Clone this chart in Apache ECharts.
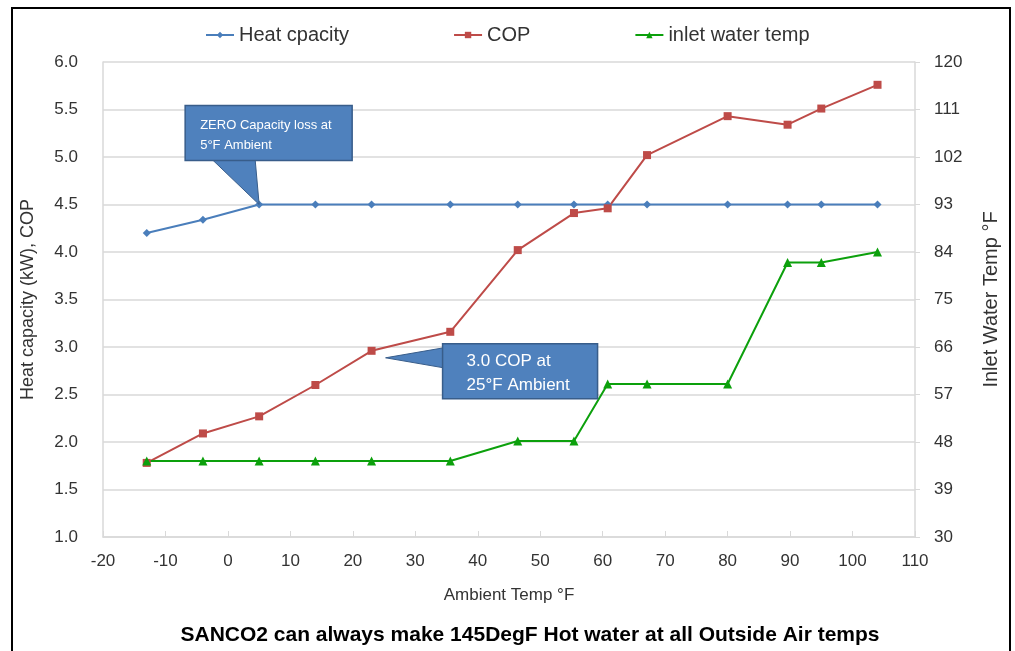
<!DOCTYPE html>
<html>
<head>
<meta charset="utf-8">
<script src="https://cdn.jsdelivr.net/npm/echarts@6/dist/echarts.min.js"></script>
<style>
  html, body { margin: 0; padding: 0; background: #fff; }
  #chart { width: 1015px; height: 651px; }
</style>
</head>
<body>
<div id="chart"></div>
<script>
// ambient temps (°F) and series values
const ambientTemp = [-13, -4, 5, 14, 23, 35.6, 46.4, 55.4, 60.8, 67.1, 80, 89.6, 95, 104]
const heatCapacity = [4.2, 4.34, 4.5, 4.5, 4.5, 4.5, 4.5, 4.5, 4.5, 4.5, 4.5, 4.5, 4.5, 4.5]
const cop = [1.78, 2.09, 2.27, 2.6, 2.96, 3.16, 4.02, 4.41, 4.46, 5.02, 5.43, 5.34, 5.51, 5.76]
const inletTemp = [44.4, 44.4, 44.4, 44.4, 44.4, 44.4, 48.2, 48.2, 59, 59, 59, 82, 82, 84]
const seriesNames = ['Heat cpacity', 'COP', 'inlet water temp']

const font = "'Liberation Sans', 'Noto Sans', sans-serif"
const gridColor = '#d9d9d9'

const pairs = (ys) => ambientTemp.map((x, i) => [x, ys[i]])

const chart = echarts.init(document.getElementById('chart'), null, { renderer: 'canvas' })

const option = {
  animation: false,
  textStyle: { fontFamily: font },
  title: {
    text: 'SANCO2 can always make 145DegF Hot water at all Outside Air temps',
    left: 525,
    textAlign: 'center',
    top: 620,
    textStyle: { fontSize: 21, fontWeight: 'bold', color: '#000', fontFamily: font }
  },
  legend: {
    data: seriesNames,
    left: 200,
    top: 20,
    itemGap: 104,
    itemWidth: 28,
    itemHeight: 8,
    textStyle: { fontSize: 20, color: '#333', fontFamily: font }
  },
  grid: { left: 103, right: 100, top: 62, bottom: 114 },
  xAxis: {
    type: 'value',
    min: -20,
    max: 110,
    interval: 10,
    name: 'Ambient Temp °F',
    nameLocation: 'middle',
    nameGap: 50,
    nameTextStyle: { fontSize: 17, color: '#333' },
    axisLine: { lineStyle: { color: gridColor, width: 1.5 } },
    axisTick: { inside: true, length: 6, lineStyle: { color: gridColor } },
    axisLabel: { fontSize: 17, color: '#333', margin: 16 },
    splitLine: { show: false }
  },
  yAxis: [
    {
      type: 'value',
      min: 1,
      max: 6,
      interval: 0.5,
      name: 'Heat capacity (kW), COP',
      nameLocation: 'middle',
      nameRotate: 90,
      nameGap: 66,
      nameTextStyle: { fontSize: 18, color: '#333' },
      axisLine: { show: true, onZero: false, lineStyle: { color: gridColor, width: 1.5 } },
      axisTick: { show: false },
      axisLabel: { fontSize: 17, color: '#333', margin: 25, formatter: (v) => v.toFixed(1) },
      splitLine: { lineStyle: { color: gridColor, width: 1.5 } }
    },
    {
      type: 'value',
      min: 30,
      max: 120,
      interval: 9,
      name: 'Inlet Water Temp °F',
      nameLocation: 'middle',
      nameRotate: 90,
      nameGap: 66,
      nameTextStyle: { fontSize: 20, color: '#333' },
      axisLine: { show: true, onZero: false, lineStyle: { color: gridColor, width: 1.5 } },
      axisTick: { show: true, length: 5, lineStyle: { color: gridColor } },
      axisLabel: { fontSize: 17, color: '#333', margin: 19 },
      splitLine: { show: false }
    }
  ],
  series: [
    {
      name: seriesNames[0],
      type: 'line',
      data: pairs(heatCapacity),
      symbol: 'diamond',
      symbolSize: 8,
      color: '#4a7ebb',
      lineStyle: { width: 2 }
    },
    {
      name: seriesNames[1],
      type: 'line',
      data: pairs(cop),
      symbol: 'rect',
      symbolSize: 8,
      color: '#be4b48',
      lineStyle: { width: 2 }
    },
    {
      name: seriesNames[2],
      type: 'line',
      yAxisIndex: 1,
      data: pairs(inletTemp),
      symbol: 'triangle',
      symbolSize: 9,
      color: '#0ca00c',
      lineStyle: { width: 2 }
    }
  ]
}
chart.setOption(option)

// callouts, anchored on the data points they point to
const tip1 = chart.convertToPixel({ gridIndex: 0 }, [ambientTemp[2], heatCapacity[2]])
const tip2 = chart.convertToPixel({ gridIndex: 0 }, [ambientTemp[4], cop[4]])
const boxFill = '#4f81bd'
const boxStroke = '#385d8a'

function callout(box, pointer, lines, fontSize, lineH) {
  return [
    {
      type: 'polygon',
      shape: { points: pointer },
      style: { fill: boxFill, stroke: boxStroke, lineWidth: 1 },
      z: 100
    },
    {
      type: 'rect',
      shape: { x: box[0], y: box[1], width: box[2], height: box[3] },
      style: { fill: boxFill, stroke: boxStroke, lineWidth: 1.5 },
      z: 101
    },
    {
      type: 'text',
      x: box[0] + box[4],
      y: box[1] + box[5],
      style: {
        text: lines.join('\n'),
        fill: '#fff',
        font: fontSize + 'px ' + font,
        lineHeight: lineH
      },
      z: 103
    }
  ]
}

const c1 = callout(
  [tip1[0] - 74, tip1[1] - 99, 167, 55, 15, 10],
  [[tip1[0] - 47, tip1[1] - 45], [tip1[0], tip1[1]], [tip1[0] - 4, tip1[1] - 45]],
  ['ZERO Capacity loss at', '5°F Ambient'], 13, 20
)
const c2 = callout(
  [tip2[0] + 71, tip2[1] - 7, 155, 55, 24, 6],
  [[tip2[0] + 72, tip2[1] - 3], [tip2[0] + 14, tip2[1] + 7], [tip2[0] + 72, tip2[1] + 17]],
  ['3.0 COP at', '25°F Ambient'], 17, 24
)

chart.setOption({
  graphic: [
    {
      type: 'rect',
      shape: { x: 12, y: 8, width: 998, height: 660 },
      style: { fill: 'none', stroke: '#000', lineWidth: 2 },
      silent: true
    }
  ].concat(c1, c2)
})
</script>
</body>
</html>
